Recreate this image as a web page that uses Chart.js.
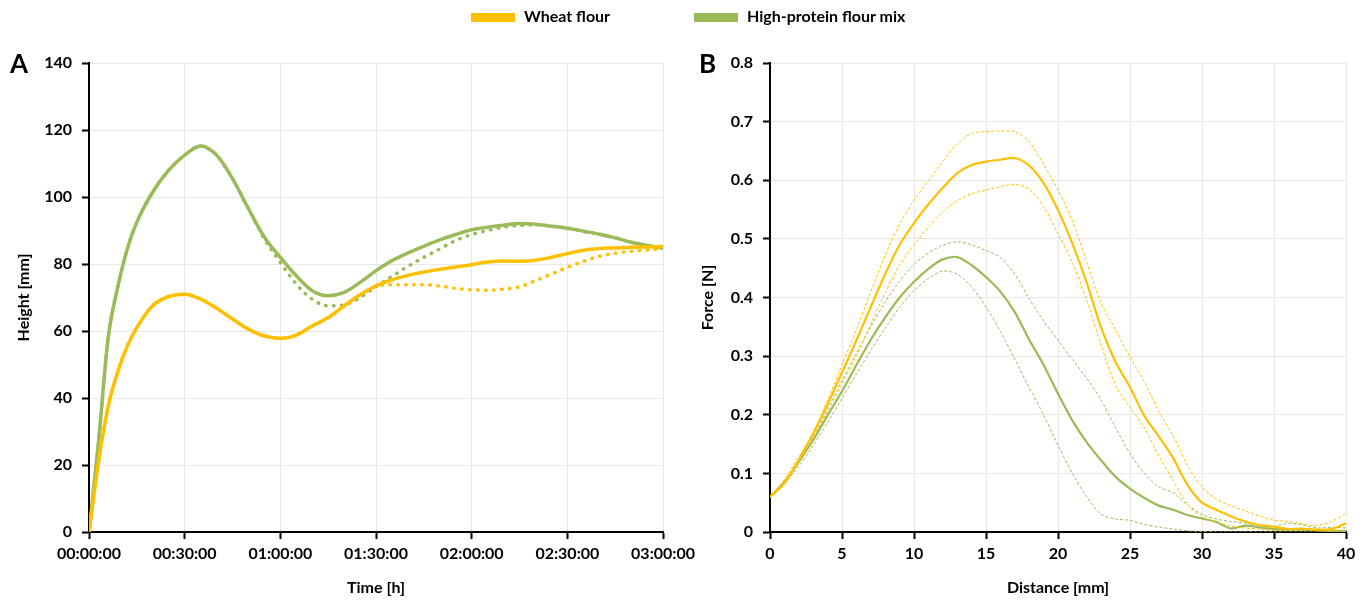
<!DOCTYPE html>
<html><head><meta charset="utf-8">
<script src="https://cdn.jsdelivr.net/npm/chart.js@4.4.1/dist/chart.umd.min.js"></script>
<style>
html,body{margin:0;padding:0;background:#fff;width:1369px;height:601px;overflow:hidden;font-family:Lato,sans-serif}
#cA{position:absolute;left:0;top:0}
#cB{position:absolute;left:684px;top:0}
.panel{position:absolute;font-family:Lato,sans-serif;font-weight:bold;font-size:26px;line-height:26px;color:#000}
.sw{position:absolute;height:9px;width:44px;top:13px}
.lt{position:absolute;top:6px;font-family:Lato,sans-serif;font-weight:bold;font-size:16px;line-height:20px;color:#000;white-space:nowrap}
</style></head>
<body>
<canvas id="cA" width="700" height="601"></canvas>
<canvas id="cB" width="685" height="601"></canvas>
<div class="panel" style="left:10px;top:50px">A</div>
<div class="panel" style="left:699px;top:50px">B</div>
<div class="sw" style="left:471px;background:#FFC000"></div>
<div class="lt" style="left:524px">Wheat flour</div>
<div class="sw" style="left:694px;background:#9BBB59"></div>
<div class="lt" style="left:747px">High-protein flour mix</div>
<script>
// ---------- Panel A: dough height over time ----------
const timeMinutes = [0,3,6,9,12,15,20,25,30,35,40,45,50,55,60,65,70,75,80,85,90,95,100,105,110,115,120,125,130,135,140,145,150,155,160,165,170,175,180];
const timeTickLabels = ['00:00:00','00:30:00','01:00:00','01:30:00','02:00:00','02:30:00','03:00:00'];
const wheatHeight = [0,21,37.4,47.8,55.5,61,67.6,70.3,71,69.5,66.8,63.6,60.5,58.5,57.8,58.8,61.5,64,67.5,70.8,73.5,75.3,76.6,77.6,78.4,79.1,79.8,80.6,80.9,80.8,81.1,82,83.1,84.1,84.6,84.8,85,85.1,85.2];
const wheatHeightDotted = [0,21,37.4,47.8,55.5,61,67.6,70.3,71,69.5,66.8,63.6,60.5,58.5,57.8,58.8,61.5,64,67.5,70.8,73.3,73.8,73.8,73.8,73.4,72.7,72.3,72.2,72.5,73.2,75,77,79,80.8,82.3,83.2,83.8,84.2,84.5];
const hpHeight = [0,27,58,73,84.5,92.5,101.5,108,112.5,115.2,112.5,105.5,96.5,88,82,76.5,72,70.5,71.5,74.5,78,81,83.3,85.3,87.2,88.8,90.2,91,91.6,92.1,91.9,91.3,90.7,89.8,88.9,87.8,86.5,85.5,84.7];
const hpHeightDotted = [0,27,58,73,84.5,92.5,101.5,108,112.5,115.2,112.5,105.5,96.5,87.5,80.5,74,69.5,67.5,67.8,70,73.3,76.3,79.3,82,84.5,87,88.8,90,91,91.5,91.7,91.3,90.7,89.8,88.9,87.8,86.5,85.5,84.7];

// ---------- Panel B: force vs distance ----------
const distanceMm = [0,1,2,3,4,5,6,7,8,9,10,11,12,13,14,15,16,17,18,19,20,21,22,23,24,25,26,27,28,29,30,31,32,33,34,35,36,37,38,39,40];
const wheatForce = [0.06,0.083,0.123,0.168,0.218,0.272,0.327,0.384,0.44,0.49,0.527,0.559,0.587,0.612,0.626,0.632,0.635,0.638,0.625,0.595,0.549,0.492,0.425,0.348,0.29,0.247,0.198,0.163,0.126,0.08,0.05,0.038,0.027,0.018,0.012,0.009,0.005,0.006,0.004,0.005,0.015];
const wheatForceUpper = [0.06,0.09,0.128,0.17,0.225,0.285,0.345,0.41,0.472,0.525,0.566,0.599,0.632,0.662,0.68,0.683,0.684,0.683,0.665,0.627,0.583,0.53,0.46,0.39,0.345,0.298,0.256,0.205,0.164,0.113,0.077,0.056,0.045,0.036,0.027,0.02,0.018,0.014,0.011,0.018,0.031];
const wheatForceLower = [0.06,0.088,0.122,0.162,0.205,0.252,0.3,0.355,0.408,0.455,0.49,0.52,0.546,0.565,0.577,0.583,0.589,0.593,0.585,0.555,0.509,0.46,0.395,0.318,0.25,0.213,0.178,0.13,0.088,0.047,0.026,0.017,0.01,0.007,0.005,0.003,0.004,0.006,0.002,0.003,0.002];
const hpForce = [0.06,0.085,0.12,0.157,0.199,0.24,0.285,0.328,0.366,0.4,0.427,0.449,0.465,0.469,0.455,0.435,0.41,0.375,0.328,0.285,0.236,0.19,0.153,0.122,0.094,0.074,0.058,0.045,0.038,0.029,0.023,0.017,0.006,0.011,0.008,0.005,0.004,0.004,0.003,0.002,0.002];
const hpForceUpper = [0.06,0.087,0.118,0.16,0.21,0.258,0.305,0.35,0.392,0.428,0.456,0.476,0.489,0.495,0.49,0.48,0.468,0.44,0.398,0.36,0.327,0.294,0.262,0.225,0.178,0.134,0.1,0.077,0.067,0.046,0.03,0.022,0.018,0.015,0.012,0.01,0.015,0.012,0.007,0.008,0.007];
const hpForceLower = [0.058,0.082,0.112,0.148,0.187,0.228,0.27,0.31,0.348,0.383,0.412,0.432,0.445,0.44,0.418,0.384,0.342,0.295,0.246,0.2,0.148,0.1,0.06,0.03,0.022,0.02,0.013,0.0085,0.005,0.002,0.001,0,0,0,0,0,0,0,0,0,0];

const YELLOW = '#FFC000';
const GREEN = '#9BBB59';
const GRID = '#e8e8e8';
const FONT = 'Lato, sans-serif';

function pts(xs, ys){ return xs.map((x,i)=>({x:x, y:ys[i]})); }

function axis(min, max, step, title, isX, fixed, tickCb){
  const o = {
    type:'linear', min:min, max:max,
    ticks:{stepSize:step, color:'#000', font:{family:FONT, weight:'bold', size:16}, padding: isX?5:10, maxRotation:0, autoSkip:false},
    grid:{color:GRID, lineWidth:1, tickColor:'#000', tickLength:7, tickWidth:2},
    border:{color:'#000', width:2},
    title:{display:true, text:title, color:'#000', font:{family:FONT, weight:'bold', size:16}, padding: isX?{top:4,bottom:4}:{top:14,bottom:4}},
    afterFit:(s)=>{ if(isX){ s.height = fixed; } else { s.width = fixed; } }
  };
  if (tickCb) o.ticks.callback = tickCb;
  return o;
}

const lineBase = {pointRadius:0, fill:false, borderJoinStyle:'round'};

new Chart(document.getElementById('cA'), {
  type:'line',
  data:{datasets:[
    Object.assign({}, lineBase, {label:'Wheat flour', data:pts(timeMinutes, wheatHeight), borderColor:YELLOW, borderWidth:3.5, cubicInterpolationMode:'monotone'}),
    Object.assign({}, lineBase, {label:'Wheat flour (dotted)', data:pts(timeMinutes, wheatHeightDotted), borderColor:YELLOW, borderWidth:3.5, borderDash:[0.5,7.5], borderCapStyle:'round', cubicInterpolationMode:'monotone'}),
    Object.assign({}, lineBase, {label:'High-protein flour mix', data:pts(timeMinutes, hpHeight), borderColor:GREEN, borderWidth:3.5, cubicInterpolationMode:'monotone'}),
    Object.assign({}, lineBase, {label:'High-protein flour mix (dotted)', data:pts(timeMinutes, hpHeightDotted), borderColor:GREEN, borderWidth:3.5, borderDash:[0.5,7.5], borderCapStyle:'round', cubicInterpolationMode:'monotone'})
  ]},
  options:{
    responsive:false, animation:false,
    layout:{padding:{left:0, right:36, top:63, bottom:0}},
    plugins:{legend:{display:false}, tooltip:{enabled:false}},
    scales:{
      x: axis(0, 180, 30, 'Time [h]', true, 69, (v)=>timeTickLabels[Math.round(v/30)]),
      y: axis(0, 140, 20, 'Height [mm]', false, 89)
    }
  }
});

new Chart(document.getElementById('cB'), {
  type:'line',
  data:{datasets:[
    Object.assign({}, lineBase, {label:'Wheat flour', data:pts(distanceMm, wheatForce), borderColor:YELLOW, borderWidth:2.2, tension:0.3}),
    Object.assign({}, lineBase, {label:'Wheat flour upper', data:pts(distanceMm, wheatForceUpper), borderColor:YELLOW, borderWidth:1, borderDash:[3,2], tension:0.3}),
    Object.assign({}, lineBase, {label:'Wheat flour lower', data:pts(distanceMm, wheatForceLower), borderColor:YELLOW, borderWidth:1, borderDash:[3,2], tension:0.3}),
    Object.assign({}, lineBase, {label:'High-protein flour mix', data:pts(distanceMm, hpForce), borderColor:GREEN, borderWidth:2.2, tension:0.3}),
    Object.assign({}, lineBase, {label:'High-protein upper', data:pts(distanceMm, hpForceUpper), borderColor:GREEN, borderWidth:1, borderDash:[3,2], tension:0.3}),
    Object.assign({}, lineBase, {label:'High-protein lower', data:pts(distanceMm, hpForceLower), borderColor:GREEN, borderWidth:1, borderDash:[3,2], tension:0.3})
  ]},
  options:{
    responsive:false, animation:false,
    layout:{padding:{left:0, right:23, top:63, bottom:0}},
    plugins:{legend:{display:false}, tooltip:{enabled:false}},
    scales:{
      x: axis(0, 40, 5, 'Distance [mm]', true, 69),
      y: axis(0, 0.8, 0.1, 'Force [N]', false, 86)
    }
  }
});
</script>
</body></html>
